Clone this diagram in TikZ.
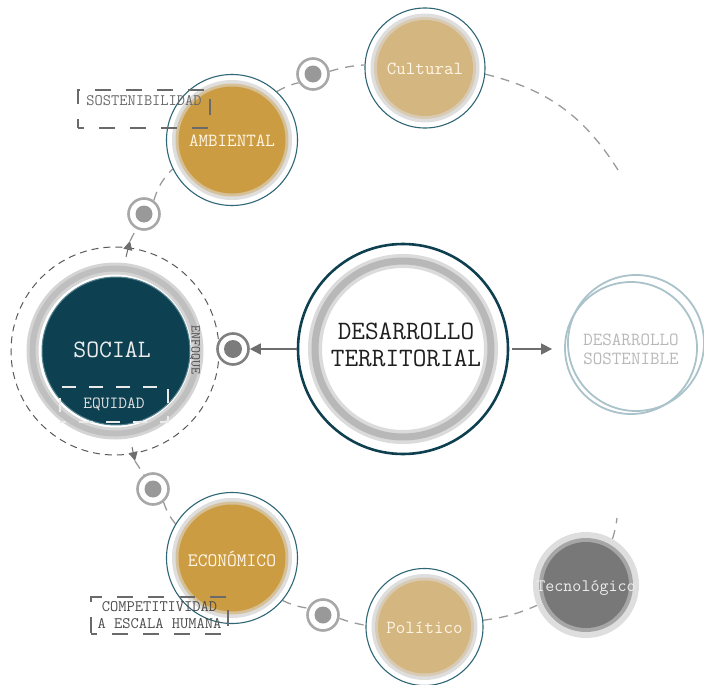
\documentclass[tikz,border=0pt]{standalone}
\usepackage{fontspec}
\usetikzlibrary{arrows.meta}
\definecolor{tealdark}{HTML}{0E4050}
\definecolor{tealline}{HTML}{2F6676}
\definecolor{socialfill}{HTML}{0D4152}
\definecolor{gold}{HTML}{CC9C42}
\definecolor{tan}{HTML}{D4B680}
\definecolor{ringgray}{HTML}{DEDEDE}
\definecolor{dashgray}{HTML}{9A9A9A}
\definecolor{arrowgray}{HTML}{6E6E6E}
\definecolor{targetgray}{HTML}{A8A8A8}
\definecolor{dotgray}{HTML}{999999}
\definecolor{sostline}{HTML}{AAC2CA}
\definecolor{creamtext}{HTML}{FFF6E6}
\definecolor{tecgray}{HTML}{787878}
\definecolor{boxgray}{HTML}{6A6A6A}
\pgfdeclarelayer{bg}
\pgfsetlayers{bg,main}
\tikzset{
  mono/.style={font=\ttfamily\fontsize{#1}{#1}\selectfont},
  outerc/.style={circle, draw=tealline, line width=1.1pt, fill=white, minimum size=#1, inner sep=0pt},
  balltext/.style={text=creamtext, inner sep=0pt, align=center},
  target/.style={circle, draw=targetgray, line width=2.6pt, fill=white, minimum size=31pt, inner sep=0pt,
    path picture={\fill[dotgray] (path picture bounding box.center) circle[radius=8.5pt];}},
  darktarget/.style={target, draw=#1, path picture={\fill[arrowgray!90] (path picture bounding box.center) circle[radius=9pt];}},
  dashline/.style={draw=dashgray, line width=1.3pt, dash pattern=on 9pt off 7pt},
  tagbox/.style={draw=boxgray, line width=1.3pt, dash pattern=on 16pt off 15pt, dash phase=10pt, inner sep=0pt},
  bigarrow/.style={draw=arrowgray, line width=1.5pt, -{Triangle[length=11pt,width=11pt]}},
  smallarrow/.style={draw=arrowgray, line width=1pt, -{Triangle[length=9pt,width=9pt]}},
}
\newcommand\mkball[7]{%
  \node[outerc={2*#4}] (#1) at (#2,#3) {};
  \fill[ringgray] (#1.center) circle[radius={#4pt-5.5pt}];
  \fill[#5, opacity=.45] (#1.center) circle[radius={#4pt-9pt}];
  \fill[#5] (#1.center) circle[radius={#4pt-12pt}];
  \node[balltext, mono=#7] (#1-t) at ([yshift=-1pt]#1.center) {#6};
}
\begin{document}
\begin{tikzpicture}[x=1pt,y=1pt]
\path[use as bounding box] (0,0) rectangle (704,-685);

% ---------- central node
\node[circle, draw=tealdark, line width=2.6pt, fill=white, minimum size=210pt, inner sep=0pt] (dt) at (403,-349) {};
\draw[line width=14pt, color=black!14] (dt.center) circle[radius=88pt];
\draw[line width=7pt, color=black!28] (dt.center) circle[radius=88pt];
\node[font=\ttfamily\fontsize{26.5}{27.5}\selectfont, align=center, text=black!88, inner sep=0pt] (dt-t) at (406,-345) {DESARROLLO\\TERRITORIAL};

% ---------- desarrollo sostenible
\node[circle, draw=sostline, line width=1.8pt, minimum size=132pt, inner sep=0pt] (ds1) at (631,-348) {};
\node[circle, draw=sostline, line width=1.8pt, minimum size=136pt, inner sep=0pt] (ds2) at (636,-343) {};
\node[font=\ttfamily\fontsize{18.5}{19}\selectfont, align=center, text=black!28, inner sep=0pt] (ds-t) at (631,-349) {DESARROLLO\\SOSTENIBLE};

% ---------- social
\node[circle, draw=black!65, line width=1pt, dash pattern=on 7pt off 5pt, minimum size=208pt, inner sep=0pt] (socout) at (115,-351) {};
\draw[line width=12pt, color=black!17] (socout.center) circle[radius=82.5pt];
\draw[line width=6pt, color=black!25] (socout.center) circle[radius=82.5pt];
\node[circle, fill=socialfill, draw=tealline!80!white, line width=1pt, minimum size=148pt, inner sep=0pt] (social) at (116,-351) {};
\node[mono=25, text=white!93!black, inner sep=0pt] (social-t) at (112,-350) {SOCIAL};
\node[draw=white!92!black, line width=1.3pt, dash pattern=on 14pt off 13pt, dash phase=8pt, minimum width=108pt, minimum height=35pt, inner sep=0pt, mono=17, text=white!88!black] (equidad) at (114,-404.5) {\raisebox{-4pt}{EQUIDAD}};
\node[mono=13.5, rotate=-90, text=black!70, inner sep=0pt] (enfoque) at (195,-350) {ENFOQUE};

% ---------- targets
\node[darktarget=black!50] (t0) at (233,-349) {};
\node[target] (t1) at (313,-74) {};
\node[target] (t2) at (144,-214) {};
\node[target] (t3) at (153,-489) {};
\node[target] (t4) at (323,-615) {};

% ---------- balls
\mkball{amb}{232}{-140}{65.5}{gold}{AMBIENTAL}{18.5}
\mkball{cul}{425}{-68}{60}{tan}{Cultural}{18.5}
\mkball{eco}{232}{-558}{65.5}{gold}{ECONÓMICO}{19}
\mkball{pol}{424.5}{-627}{58.5}{tan}{Político}{18.5}
\node[circle, fill=ringgray, minimum size=106pt, inner sep=0pt] (tec) at (586,-585) {};
\fill[tecgray!55!ringgray] (tec.center) circle[radius=47pt];
\fill[tecgray] (tec.center) circle[radius=43pt];
\node[mono=17.5, text=white!93!black, inner sep=0pt] (tec-t) at (586,-588) {Tecnológico};

% ---------- tag boxes
\node[tagbox, minimum width=132pt, minimum height=38pt] (sbox) at (144,-109) {};
\node[mono=16, text=boxgray, inner sep=0pt] (sbox-t) at (144,-101) {SOSTENIBILIDAD};
\node[tagbox, minimum width=137pt, minimum height=37pt, align=center, font=\ttfamily\fontsize{16}{17}\selectfont, text=black!70] (cbox) at (159.5,-615.5) {COMPETITIVIDAD\\A ESCALA HUMANA};

% ---------- arrows
\draw[bigarrow] (dt.west) -- (t0.east);
\draw[bigarrow, shorten <=3pt, shorten >=12pt] (dt.east) -- (dt.east -| ds1.west);

% ---------- dashed orbit
\coordinate (a1s) at (126,-257);
\coordinate (a1e) at (130,-241);
\coordinate (a2s) at (132,-447);
\coordinate (a2e) at (135,-461);
\coordinate (endU) at (618,-170);
\coordinate (endL) at (617,-518);
\draw[smallarrow] (a1s) -- (a1e);
\draw[smallarrow] (a2s) -- (a2e);
\begin{pgfonlayer}{bg}
\draw[dashline] (a1e) -- (t2.center);
\draw[dashline] (t2) to[bend left=14] (amb);
\draw[dashline] (amb) to[bend left=8] (t1);
\draw[dashline] (t1) to[bend left=6] (cul);
\draw[dashline] (cul) to[bend left=22] (endU);
\draw[dashline] (a2e) -- (t3.center);
\draw[dashline] (t3) to[bend right=10] (eco);
\draw[dashline] (eco) to[bend right=8] (t4);
\draw[dashline] (t4) to[bend right=5] (pol);
\draw[dashline] (pol) to[bend right=8] (tec);
\draw[dashline] (tec) to[bend right=5] (endL);
\end{pgfonlayer}
\end{tikzpicture}
\end{document}
